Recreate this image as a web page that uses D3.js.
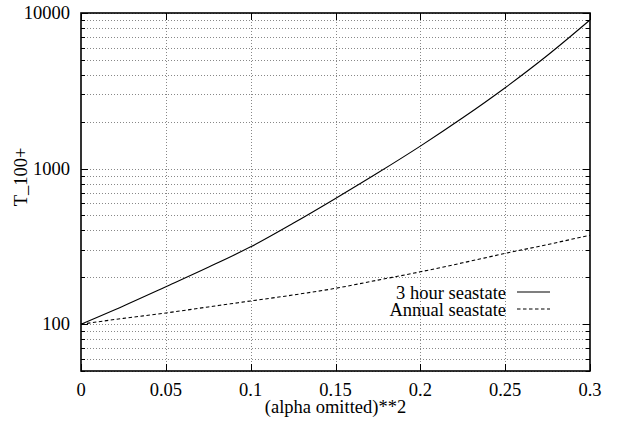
<!DOCTYPE html>
<html>
<head>
<meta charset="utf-8">
<script src="https://cdn.jsdelivr.net/npm/d3@7"></script>
<style>
  body { margin: 0; background: #fff; }
</style>
</head>
<body>
<script>
// values
var alpha2 = [0, 0.025, 0.05, 0.075, 0.1, 0.125, 0.15, 0.175, 0.2, 0.225, 0.25, 0.275, 0.3];
var threeHour = [100, 131, 174, 232, 314, 445, 643, 940, 1395, 2120, 3310, 5350, 9020];
var annual = [100, 109, 118, 129, 141, 154, 170, 192, 217, 248, 285, 325, 373];
var xTicks = [0, 0.05, 0.1, 0.15, 0.2, 0.25, 0.3];
var xTickLabels = ["0", "0.05", "0.1", "0.15", "0.2", "0.25", "0.3"];
var yMajor = [100, 1000, 10000];
var yMajorLabels = ["100", "1000", "10000"];
var seriesNames = ["3 hour seastate", "Annual seastate"];

var W = 618, H = 424;
var pl = 81, pr = 590, pt = 13, pb = 371;

var svg = d3.select("body").append("svg")
  .attr("width", W)
  .attr("height", H)
  .attr("font-family", "'Liberation Serif', 'Times New Roman', Times, 'DejaVu Serif', serif")
  .attr("font-size", 18.5);

var x = d3.scaleLinear().domain([0, 0.3]).range([pl, pr]);
var y = d3.scaleLog().domain([50, 10000]).range([pb, pt]);

// minor log ticks
var yMinor = [];
[10, 100, 1000].forEach(function(d) {
  for (var k = 1; k <= 9; ++k) {
    var v = d * k;
    if (v >= 50 && v <= 10000 && yMajor.indexOf(v) < 0) yMinor.push(v);
  }
});

var grid = svg.append("g")
  .attr("stroke", "#888")
  .attr("stroke-width", 1)
  .attr("stroke-dasharray", "1,2");

grid.selectAll(".gy")
  .data(yMinor.concat(yMajor))
  .enter().append("line")
  .attr("x1", pl).attr("x2", pr)
  .attr("y1", function(d) { return Math.round(y(d)) + 0.5; })
  .attr("y2", function(d) { return Math.round(y(d)) + 0.5; });

grid.selectAll(".gx")
  .data(xTicks.slice(1, -1))
  .enter().append("line")
  .attr("y1", pt).attr("y2", pb)
  .attr("x1", function(d) { return Math.round(x(d)) + 0.5; })
  .attr("x2", function(d) { return Math.round(x(d)) + 0.5; });

// ticks, mirrored on all sides
var ticks = svg.append("g").attr("stroke", "#000").attr("stroke-width", 1);
yMajor.concat(yMinor).forEach(function(d) {
  var len = yMajor.indexOf(d) >= 0 ? 7 : 4;
  var yy = Math.round(y(d)) + 0.5;
  ticks.append("line").attr("x1", pl).attr("x2", pl + len).attr("y1", yy).attr("y2", yy);
  ticks.append("line").attr("x1", pr).attr("x2", pr - len).attr("y1", yy).attr("y2", yy);
});
xTicks.forEach(function(d) {
  var xx = Math.round(x(d)) + 0.5;
  ticks.append("line").attr("x1", xx).attr("x2", xx).attr("y1", pb).attr("y2", pb - 7);
  ticks.append("line").attr("x1", xx).attr("x2", xx).attr("y1", pt).attr("y2", pt + 7);
});

// frame
svg.append("rect")
  .attr("x", pl).attr("y", pt)
  .attr("width", pr - pl).attr("height", pb - pt)
  .attr("fill", "none")
  .attr("stroke", "#000")
  .attr("stroke-width", 1.6);

// tick labels
svg.selectAll(".xl")
  .data(xTicks)
  .enter().append("text")
  .attr("x", function(d) { return x(d); })
  .attr("y", 396)
  .attr("text-anchor", "middle")
  .text(function(d, i) { return xTickLabels[i]; });

svg.selectAll(".yl")
  .data(yMajor)
  .enter().append("text")
  .attr("x", 70)
  .attr("y", function(d) { return y(d) + 6; })
  .attr("text-anchor", "end")
  .text(function(d, i) { return yMajorLabels[i]; });

svg.append("text")
  .attr("x", (pl + pr) / 2)
  .attr("y", 413)
  .attr("text-anchor", "middle")
  .text("(alpha omitted)**2");

svg.append("text")
  .attr("transform", "translate(27,177) rotate(-90)")
  .attr("text-anchor", "middle")
  .text("T_100+");

// curves
var line = d3.line()
  .x(function(d) { return x(d[0]); })
  .y(function(d) { return y(d[1]); })
  .curve(d3.curveMonotoneX);

var series = [threeHour, annual];
var dashes = [null, "3.5,2.5"];

series.forEach(function(s, i) {
  svg.append("path")
    .datum(alpha2.map(function(a, j) { return [a, s[j]]; }))
    .attr("fill", "none")
    .attr("stroke", "#000")
    .attr("stroke-width", 1.1)
    .attr("stroke-dasharray", dashes[i])
    .attr("d", line);
});

// legend
seriesNames.forEach(function(n, i) {
  var yy = 299 + i * 17;
  svg.append("text")
    .attr("x", 506)
    .attr("y", yy)
    .attr("text-anchor", "end")
    .text(n);
  svg.append("line")
    .attr("x1", 517).attr("x2", 550)
    .attr("y1", yy - 7).attr("y2", yy - 7)
    .attr("stroke", "#000")
    .attr("stroke-width", 1.1)
    .attr("stroke-dasharray", dashes[i]);
});
</script>
</body>
</html>
